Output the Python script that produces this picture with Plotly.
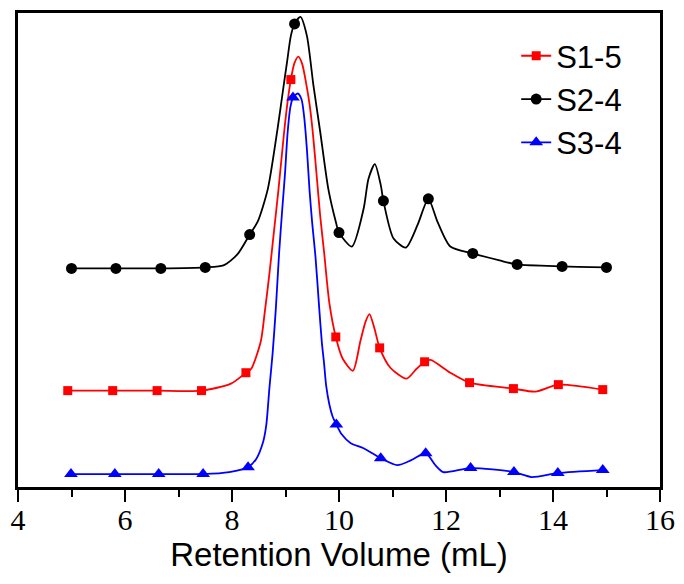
import plotly.graph_objects as go

# ---- Data (retention volume in mL, detector response in arbitrary units) ----
s15_x = [4.93, 5.77, 6.6, 7.43, 7.98, 8.26, 8.36, 8.54, 8.61, 8.7, 8.78, 8.87, 8.97, 9.04,
         9.1, 9.17, 9.24, 9.31, 9.38, 9.45, 9.51, 9.58, 9.65, 9.72, 9.82, 9.94, 10.07, 10.26,
         10.4, 10.5, 10.57, 10.66, 10.76, 10.96, 11.26, 11.45, 11.6, 11.71, 12.08, 12.44,
         13.26, 13.67, 14.1, 14.93]
s15_y = [97, 97, 97, 97, 104, 115, 119, 147, 175, 215, 255, 300, 355, 388,
         410, 427, 433, 426, 408, 385, 357, 315, 272, 237, 185, 151, 129, 117,
         147, 167, 174, 160, 140, 120, 109, 119, 126, 128, 115, 105,
         99, 96, 103, 98]
s15_marks = [4.93, 5.77, 6.6, 7.43, 8.26, 9.1, 9.94, 10.76, 11.6, 12.44, 13.26, 14.1, 14.93]

s24_x = [5.0, 5.83, 6.67, 7.5, 7.84, 8.1, 8.33, 8.48, 8.67, 8.85, 8.95, 9.03, 9.1, 9.17,
         9.28, 9.4, 9.52, 9.65, 9.8, 9.94, 10.0, 10.24, 10.46, 10.55, 10.67, 10.78, 10.83,
         11.02, 11.25, 11.47, 11.67, 11.84, 12.08, 12.5, 13.0, 13.33, 14.17, 15.0]
s24_y = [220, 220, 220, 221, 223, 234, 254, 267, 300, 360, 398, 428, 454, 466,
         473, 454, 405, 357, 300, 267, 256, 242, 280, 310, 325, 304, 288,
         250, 241, 264, 290, 267, 242, 235, 228, 224, 222, 221]
s24_marks = [5.0, 5.83, 6.67, 7.5, 8.33, 9.17, 10.0, 10.83, 11.67, 12.5, 13.33, 14.17, 15.0]

s34_x = [4.99, 5.81, 6.63, 7.46, 7.95, 8.3, 8.45, 8.58, 8.64, 8.7, 8.76, 8.82, 8.88, 8.94,
         8.99, 9.04, 9.09, 9.14, 9.23, 9.3, 9.35, 9.4, 9.45, 9.5, 9.56, 9.63, 9.68, 9.72,
         9.76, 9.82, 9.88, 9.95, 10.05, 10.22, 10.46, 10.78, 11.09, 11.35, 11.62, 11.8,
         11.95, 12.46, 13.27, 13.6, 14.09, 14.93]
s34_y = [13, 13, 13, 13, 15, 20, 28, 45, 62, 100, 135, 180, 235, 280,
         315, 357, 382, 392, 396, 390, 372, 340, 298, 265, 232, 180, 145, 125,
         102, 83, 71, 63, 53, 44, 39, 29, 22, 27, 34, 22,
         15, 19, 15, 10, 14, 17]
s34_marks = [4.99, 5.81, 6.63, 7.46, 8.3, 9.14, 9.95, 10.78, 11.62, 12.46, 13.27, 14.09, 14.93]

x_ticks = [4, 6, 8, 10, 12, 14, 16]

series = [
    ("S1-5", s15_x, s15_y, s15_marks, "#ff0000", "square", 9),
    ("S2-4", s24_x, s24_y, s24_marks, "#000000", "circle", 11),
    ("S3-4", s34_x, s34_y, s34_marks, "#0000ff", "triangle-up", 12),
]

fig = go.Figure()
for name, xs, ys, marks, color, sym, msize in series:
    fig.add_trace(go.Scatter(x=xs, y=ys, mode="lines",
                             line=dict(color=color, width=1.8, shape="spline", smoothing=0.7),
                             showlegend=False, hoverinfo="skip"))
    mx = [x for x in xs if x in marks]
    my = [y for x, y in zip(xs, ys) if x in marks]
    fig.add_trace(go.Scatter(x=mx, y=my, mode="markers",
                             marker=dict(color=color, symbol=sym, size=msize),
                             showlegend=False))
    fig.add_trace(go.Scatter(x=[None], y=[None], mode="lines+markers", name=name,
                             line=dict(color=color, width=1.8),
                             marker=dict(color=color, symbol=sym, size=msize)))

fig.update_layout(
    width=676, height=576,
    margin=dict(l=8, r=24, t=2, b=97),
    paper_bgcolor="white", plot_bgcolor="white",
    showlegend=True,
    legend=dict(x=0.776, y=0.966, xanchor="left", yanchor="top", bgcolor="rgba(0,0,0,0)",
                font=dict(family="Liberation Sans", size=31, color="black"),
                tracegroupgap=0),
    xaxis=dict(range=[4, 16], tickvals=x_ticks, ticks="outside", ticklen=12, tickwidth=2,
               tickcolor="black", showline=True, linewidth=2.5, linecolor="black", mirror=True,
               showgrid=False, zeroline=False, ticklabelstandoff=-8,
               tickfont=dict(family="Liberation Serif", size=30, color="black"),
               minor=dict(dtick=1, ticks="outside", ticklen=7, tickwidth=2, tickcolor="black"),
               title=dict(text="Retention Volume (mL)", standoff=6,
                          font=dict(family="Liberation Sans", size=33, color="black"))),
    yaxis=dict(range=[0, 477], showticklabels=False, ticks="", showline=True, linewidth=2.5,
               linecolor="black", mirror=True, showgrid=False, zeroline=False),
)

fig.write_html("out.html")
